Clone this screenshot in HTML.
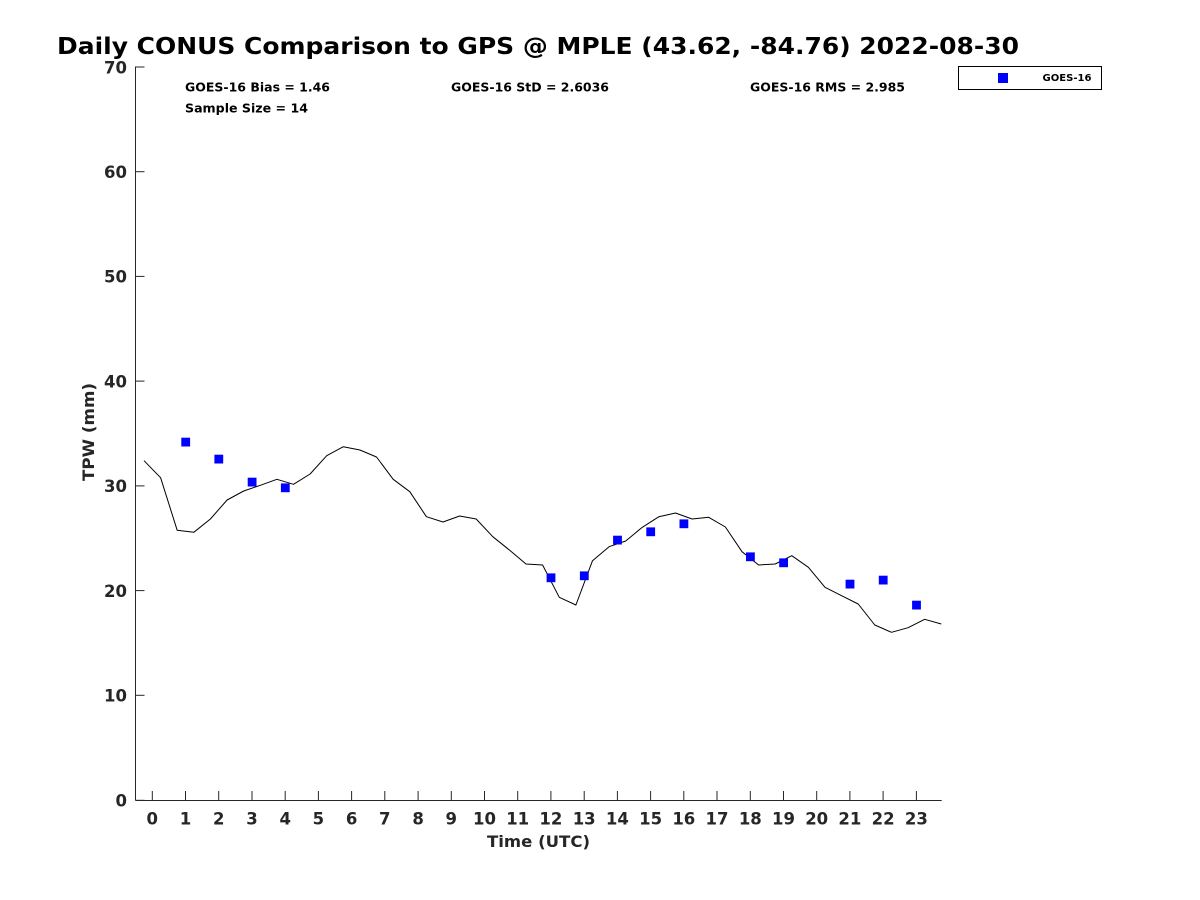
<!DOCTYPE html>
<html>
<head>
<meta charset="utf-8">
<style>
  html, body { margin:0; padding:0; background:#fff; }
  svg { display:block; }
  text { font-family: "DejaVu Sans", "Liberation Sans", sans-serif; font-weight: bold; }
</style>
</head>
<body>
<svg width="1200" height="900" viewBox="0 0 1200 900" xmlns="http://www.w3.org/2000/svg">
  <rect width="1200" height="900" fill="#ffffff"/>

  <!-- Title -->
  <text x="57" y="54" font-size="23" fill="#000" textLength="962" lengthAdjust="spacingAndGlyphs">Daily CONUS Comparison to GPS @ MPLE (43.62, -84.76) 2022-08-30</text>

  <!-- Axes -->
  <g stroke="#262626" stroke-width="1" fill="none">
    <line x1="135.5" y1="66.5" x2="135.5" y2="800.5"/>
    <line x1="135.5" y1="800.5" x2="941.7" y2="800.5"/>
    <!-- y ticks -->
    <line x1="135.5" y1="800.3" x2="144.5" y2="800.3"/>
    <line x1="135.5" y1="695.3" x2="144.5" y2="695.3"/>
    <line x1="135.5" y1="590.6" x2="144.5" y2="590.6"/>
    <line x1="135.5" y1="485.9" x2="144.5" y2="485.9"/>
    <line x1="135.5" y1="381.1" x2="144.5" y2="381.1"/>
    <line x1="135.5" y1="276.4" x2="144.5" y2="276.4"/>
    <line x1="135.5" y1="171.7" x2="144.5" y2="171.7"/>
    <line x1="135.5" y1="67" x2="144.5" y2="67"/>
    <!-- x ticks -->
    <line x1="152.3" y1="800" x2="152.3" y2="791"/>
    <line x1="185.5" y1="800" x2="185.5" y2="791"/>
    <line x1="218.7" y1="800" x2="218.7" y2="791"/>
    <line x1="252.0" y1="800" x2="252.0" y2="791"/>
    <line x1="285.2" y1="800" x2="285.2" y2="791"/>
    <line x1="318.4" y1="800" x2="318.4" y2="791"/>
    <line x1="351.6" y1="800" x2="351.6" y2="791"/>
    <line x1="384.8" y1="800" x2="384.8" y2="791"/>
    <line x1="418.1" y1="800" x2="418.1" y2="791"/>
    <line x1="451.3" y1="800" x2="451.3" y2="791"/>
    <line x1="484.5" y1="800" x2="484.5" y2="791"/>
    <line x1="517.7" y1="800" x2="517.7" y2="791"/>
    <line x1="550.9" y1="800" x2="550.9" y2="791"/>
    <line x1="584.2" y1="800" x2="584.2" y2="791"/>
    <line x1="617.4" y1="800" x2="617.4" y2="791"/>
    <line x1="650.6" y1="800" x2="650.6" y2="791"/>
    <line x1="683.8" y1="800" x2="683.8" y2="791"/>
    <line x1="717.0" y1="800" x2="717.0" y2="791"/>
    <line x1="750.3" y1="800" x2="750.3" y2="791"/>
    <line x1="783.5" y1="800" x2="783.5" y2="791"/>
    <line x1="816.7" y1="800" x2="816.7" y2="791"/>
    <line x1="849.9" y1="800" x2="849.9" y2="791"/>
    <line x1="883.1" y1="800" x2="883.1" y2="791"/>
    <line x1="916.4" y1="800" x2="916.4" y2="791"/>
  </g>

  <!-- Y tick labels -->
  <g font-size="16.5" fill="#262626" text-anchor="end">
    <text x="127" y="806.5">0</text>
    <text x="127" y="701.6">10</text>
    <text x="127" y="596.9">20</text>
    <text x="127" y="492.2">30</text>
    <text x="127" y="387.4">40</text>
    <text x="127" y="282.7">50</text>
    <text x="127" y="178">60</text>
    <text x="127" y="73.3">70</text>
  </g>

  <!-- X tick labels -->
  <g font-size="16.5" fill="#262626" text-anchor="middle">
    <text x="152.3" y="824.5">0</text>
    <text x="185.5" y="824.5">1</text>
    <text x="218.7" y="824.5">2</text>
    <text x="252.0" y="824.5">3</text>
    <text x="285.2" y="824.5">4</text>
    <text x="318.4" y="824.5">5</text>
    <text x="351.6" y="824.5">6</text>
    <text x="384.8" y="824.5">7</text>
    <text x="418.1" y="824.5">8</text>
    <text x="451.3" y="824.5">9</text>
    <text x="484.5" y="824.5">10</text>
    <text x="517.7" y="824.5">11</text>
    <text x="550.9" y="824.5">12</text>
    <text x="584.2" y="824.5">13</text>
    <text x="617.4" y="824.5">14</text>
    <text x="650.6" y="824.5">15</text>
    <text x="683.8" y="824.5">16</text>
    <text x="717.0" y="824.5">17</text>
    <text x="750.3" y="824.5">18</text>
    <text x="783.5" y="824.5">19</text>
    <text x="816.7" y="824.5">20</text>
    <text x="849.9" y="824.5">21</text>
    <text x="883.1" y="824.5">22</text>
    <text x="916.4" y="824.5">23</text>
  </g>

  <!-- Axis labels -->
  <text x="538.5" y="847" font-size="16" fill="#262626" text-anchor="middle" textLength="103" lengthAdjust="spacingAndGlyphs">Time (UTC)</text>
  <text transform="translate(94,432) rotate(-90)" x="0" y="0" font-size="16" fill="#262626" text-anchor="middle" textLength="98" lengthAdjust="spacingAndGlyphs">TPW (mm)</text>

  <!-- Stats -->
  <g font-size="12.5" fill="#000">
    <text x="185" y="91.5" textLength="145" lengthAdjust="spacingAndGlyphs">GOES-16 Bias = 1.46</text>
    <text x="185" y="112.5" textLength="123" lengthAdjust="spacingAndGlyphs">Sample Size = 14</text>
    <text x="451" y="91.5" textLength="158" lengthAdjust="spacingAndGlyphs">GOES-16 StD = 2.6036</text>
    <text x="750" y="91.5" textLength="155" lengthAdjust="spacingAndGlyphs">GOES-16 RMS = 2.985</text>
  </g>

  <!-- Legend -->
  <rect x="958.5" y="66.5" width="143" height="23" fill="#fff" stroke="#000" stroke-width="1"/>
  <rect x="998" y="73" width="10" height="10" fill="#0000ff"/>
  <text x="1042.5" y="81" font-size="10" fill="#000" textLength="49" lengthAdjust="spacingAndGlyphs">GOES-16</text>

  <!-- GPS line -->
  <polyline fill="none" stroke="#000" stroke-width="1" stroke-linejoin="round" points="
    144.0,460.7 160.6,477.7 177.2,530.3 193.8,532.3 210.4,519 227.1,500 243.7,491 260.3,485.3
    276.9,479.3 293.5,484.3 310.1,474 326.7,455.7 343.3,446.7 359.9,450 376.5,457 393.2,479.3
    409.8,491.7 426.4,516.7 443.0,522 459.6,516 476.2,519 492.8,536.7 509.4,550 526.0,564
    542.6,565 559.3,597.3 575.9,605 592.5,560.7 609.1,546.7 625.7,541 642.3,527.3 658.9,516.7
    675.5,513 692.1,519 708.7,517.3 725.4,527 742.0,551.7 758.6,565 775.2,564 791.8,555.7
    808.4,567.3 825.0,587.3 841.6,595.7 858.2,604 874.8,625 891.5,632.3 908.1,627.7 924.7,619.3
    941.3,624"/>

  <!-- GOES-16 squares -->
  <g fill="#0000ff">
    <rect x="181.3" y="437.7" width="8.8" height="8.8"/>
    <rect x="214.4" y="454.7" width="8.8" height="8.8"/>
    <rect x="247.7" y="477.7" width="8.8" height="8.8"/>
    <rect x="280.9" y="483.4" width="8.8" height="8.8"/>
    <rect x="546.6" y="573.4" width="8.8" height="8.8"/>
    <rect x="579.9" y="571.4" width="8.8" height="8.8"/>
    <rect x="613.1" y="535.7" width="8.8" height="8.8"/>
    <rect x="646.3" y="527.4" width="8.8" height="8.8"/>
    <rect x="679.5" y="519.4" width="8.8" height="8.8"/>
    <rect x="746.0" y="552.4" width="8.8" height="8.8"/>
    <rect x="779.2" y="558.4" width="8.8" height="8.8"/>
    <rect x="845.6" y="579.7" width="8.8" height="8.8"/>
    <rect x="878.8" y="575.7" width="8.8" height="8.8"/>
    <rect x="912.1" y="600.7" width="8.8" height="8.8"/>
  </g>
</svg>
</body>
</html>
